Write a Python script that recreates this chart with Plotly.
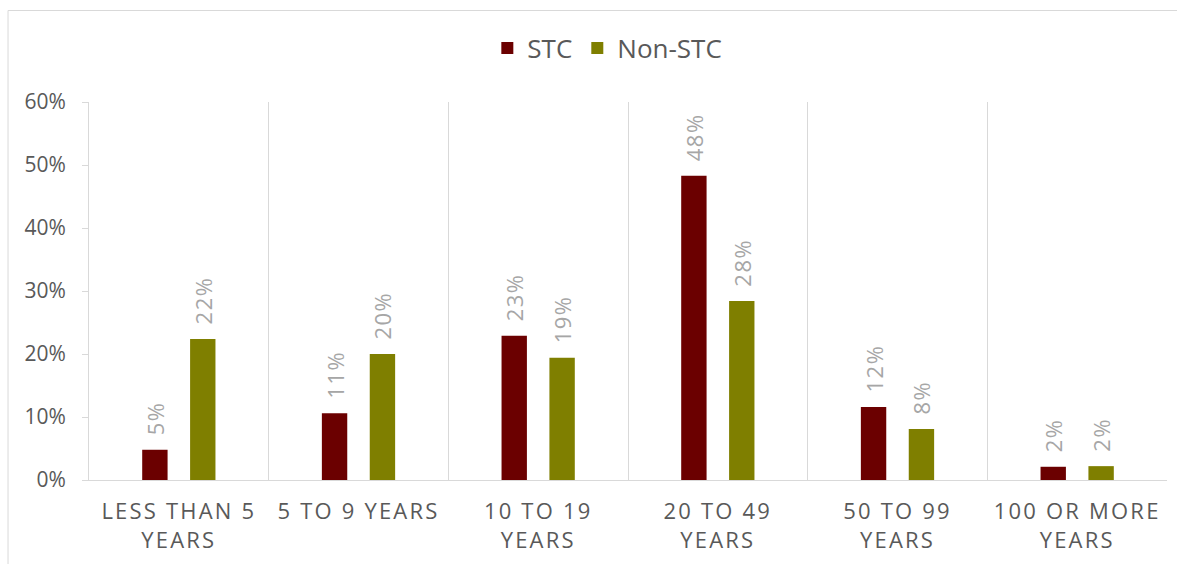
import plotly.graph_objects as go

categories = ["LESS THAN 5<br>YEARS", "5 TO 9 YEARS", "10 TO 19<br>YEARS",
              "20 TO 49<br>YEARS", "50 TO 99<br>YEARS", "100 OR MORE<br>YEARS"]
stc = [0.048, 0.106, 0.229, 0.483, 0.116, 0.021]
non_stc = [0.224, 0.200, 0.194, 0.284, 0.081, 0.022]
y_ticks = [0, 0.1, 0.2, 0.3, 0.4, 0.5, 0.6]

FONT = "Open Sans"
GRID = "#d9d9d9"


def spaced(label, px):
    return "<br>".join(
        f'<span style="letter-spacing:{px}px">{part}</span>' for part in label.split("<br>")
    )


x_labels = [spaced(c, 2.2) for c in categories]

fig = go.Figure()
for name, vals, color in [("STC", stc, "#6b0000"), ("Non-STC", non_stc, "#7f7f00")]:
    fig.add_trace(go.Bar(
        name=name, x=x_labels, y=vals,
        marker=dict(color=color, line=dict(width=0)),
        # two non-breaking spaces lift the rotated label clear of the bar top
        text=["\u00a0\u00a0" + spaced(f"{v:.0%}", 1.5) for v in vals],
        textposition="outside", textangle=-90,
        textfont=dict(family=FONT, size=22, color="#a6a6a6"),
        constraintext="none", cliponaxis=False,
    ))

fig.update_layout(
    width=1177, height=564,
    margin=dict(l=89, r=10, t=102, b=84, autoexpand=False),
    paper_bgcolor="white", plot_bgcolor="white",
    barmode="group", bargap=0.467, bargroupgap=0.47,
    font=dict(family=FONT, color="#595959"),
    legend=dict(orientation="h", x=0.516, xanchor="center", xref="container",
                y=1 - 48 / 564, yanchor="middle", yref="container",
                font=dict(size=26, color="#595959"), traceorder="normal"),
    xaxis=dict(
        tickson="boundaries", showgrid=True, gridcolor=GRID, gridwidth=1,
        showline=True, linecolor=GRID, ticks="", tickangle=0,
        tickfont=dict(family=FONT, size=22, color="#595959"),
        ticklabelstandoff=12,
    ),
    yaxis=dict(
        range=[0, 0.6], tickvals=y_ticks, tickformat=".0%", showgrid=False,
        zeroline=False, showline=True, linecolor=GRID, ticks="outside",
        ticklen=6, tickcolor=GRID, ticklabelstandoff=12,
        tickfont=dict(family=FONT, size=21, color="#595959"),
    ),
    shapes=[dict(type="rect", xref="paper", yref="paper",
                 x0=-0.0751, x1=1.03, y0=-0.3, y1=(480 - 10.5) / 378,
                 line=dict(color=GRID, width=1), layer="below")],
)

fig.write_html("out.html")
